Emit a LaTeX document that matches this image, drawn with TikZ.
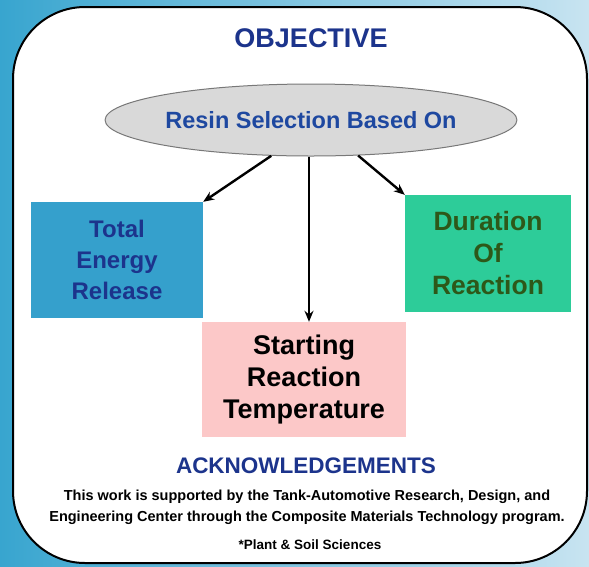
\documentclass[tikz,border=0pt]{standalone}
\usepackage{fontspec}
\setmainfont{Liberation Sans}
\usetikzlibrary{shapes.geometric,arrows.meta}
\definecolor{bgleft}{RGB}{56,165,207}
\definecolor{bgright}{RGB}{200,228,241}
\definecolor{navy}{RGB}{28,52,140}
\definecolor{ellblue}{RGB}{30,72,160}
\definecolor{ellfill}{RGB}{217,217,217}
\definecolor{ellline}{RGB}{120,120,120}
\definecolor{boxblue}{RGB}{53,160,204}
\definecolor{boxgreen}{RGB}{45,204,153}
\definecolor{boxpink}{RGB}{252,200,200}
\definecolor{txtgreen}{RGB}{45,88,25}
\tikzset{
  box/.style={inner sep=0pt, align=center, font=\bfseries},
  arr/.style={-{Stealth[length=11pt,width=9pt]}, line width=2.4pt, black},
}
\begin{document}
\begin{tikzpicture}[x=1pt,y=-1pt]
\useasboundingbox (0,0) rectangle (589,566);
\shade[left color=bgleft, right color=bgright] (0,0) rectangle (589,566);
\draw[fill=white, line width=2pt, rounded corners=72pt] (13,7) rectangle (587,563);
\node[font=\bfseries\fontsize{27}{30}\selectfont, text=navy] (title) at (311,38) {OBJECTIVE};
\node[ellipse, draw=ellline, line width=1pt, fill=ellfill, minimum width=408pt, minimum height=72pt,
      inner sep=0pt, font=\bfseries\fontsize{23.5}{26}\selectfont, text=ellblue] (ell) at (311,120) {Resin Selection Based On};
\node[box, fill=boxblue, minimum width=172pt, minimum height=116pt, text=navy,
      font=\bfseries\fontsize{24}{31}\selectfont] (lb) at (117,260) {Total\\Energy\\Release};
\node[box, fill=boxgreen, minimum width=166pt, minimum height=117pt, text=txtgreen,
      font=\bfseries\fontsize{26.5}{32}\selectfont] (rb) at (488,253.5) {Duration\\Of\\Reaction};
\node[box, fill=boxpink, minimum width=204pt, minimum height=115pt, text=black,
      font=\bfseries\fontsize{27}{32}\selectfont] (cb) at (304,379.5) {Starting\\Reaction\\Temperature};
\draw[arr] (ell.222) -- (lb.north east);
\draw[arr] (ell.323) -- (rb.north west);
\draw[arr] ([xshift=-2pt]ell.south) -- ([xshift=-2pt]ell.south |- cb.north);
\node[font=\bfseries\fontsize{22.5}{24}\selectfont, text=navy] (ack) at (306,466) {ACKNOWLEDGEMENTS};
\node[font=\bfseries\fontsize{14.5}{21}\selectfont, align=center] (acktxt) at (307,507.5)
  {This work is supported by the Tank-Automotive Research, Design, and\\Engineering Center through the Composite Materials Technology program.};
\node[font=\bfseries\fontsize{13.5}{15}\selectfont] (dept) at (310,545) {*Plant \& Soil Sciences};
\end{tikzpicture}
\end{document}
